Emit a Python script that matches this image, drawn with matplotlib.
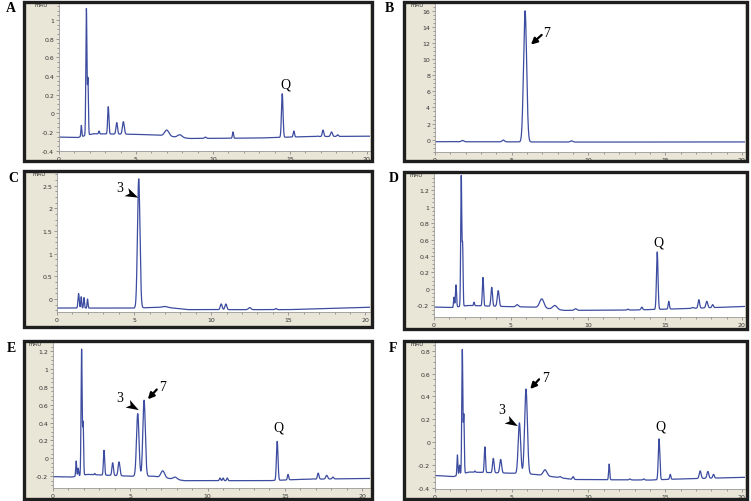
import numpy as np
import matplotlib.pyplot as plt
from matplotlib.patches import Rectangle
from matplotlib.path import Path
from matplotlib.ticker import MultipleLocator, AutoMinorLocator, FuncFormatter

# peak tables: retention time (min), apex (mAU), sigma (min)
# plus baseline knots (time, mAU)
A_rt = [1.45, 1.78, 1.88, 2.6, 3.2, 3.75, 4.18, 7.0, 7.85, 9.5, 11.3, 14.5, 15.25, 16.8, 17.15, 17.7, 18.1]
A_top = [-0.13, 1.12, 0.36, -0.19, 0.07, -0.10, -0.09, -0.18, -0.23, -0.255, -0.20, 0.21, -0.19, -0.245, -0.18, -0.20, -0.23]
A_sig = [0.03, 0.035, 0.03, 0.03, 0.04, 0.05, 0.06, 0.14, 0.14, 0.06, 0.035, 0.05, 0.04, 0.06, 0.05, 0.06, 0.05]
A_bt = [0, 1.2, 2.2, 5, 6.5, 8.5, 13, 16, 20.5]
A_by = [-0.255, -0.26, -0.22, -0.225, -0.235, -0.27, -0.265, -0.25, -0.245]

B_rt = [1.8, 4.45, 5.87, 8.9]
B_top = [-0.10, -0.05, 16.0, -0.15]
B_sig = [0.08, 0.08, 0.1, 0.08]
B_bt = [0, 10, 20.5]
B_by = [-0.25, -0.3, -0.28]

C_rt = [1.4, 1.57, 1.75, 1.98, 5.3, 7.0, 10.65, 10.95, 12.5, 14.2]
C_top = [0.12, 0.05, 0.03, 0.0, 2.65, -0.165, -0.11, -0.11, -0.19, -0.21]
C_sig = [0.04, 0.03, 0.03, 0.03, 0.08, 0.15, 0.06, 0.06, 0.08, 0.05]
C_bt = [0, 5, 7, 8.5, 15, 20.5]
C_by = [-0.20, -0.20, -0.18, -0.235, -0.235, -0.18]

D_rt = [1.3, 1.43, 1.77, 1.86, 2.6, 3.18, 3.75, 4.17, 5.4, 7.0, 7.85, 9.2, 12.6, 13.5, 14.5, 15.25, 16.8, 17.2, 17.72, 18.1]
D_top = [-0.10, 0.05, 1.37, 0.50, -0.16, 0.14, 0.02, -0.02, -0.19, -0.12, -0.20, -0.24, -0.245, -0.22, 0.45, -0.15, -0.225, -0.13, -0.15, -0.19]
D_sig = [0.03, 0.035, 0.035, 0.03, 0.03, 0.04, 0.05, 0.06, 0.08, 0.14, 0.14, 0.08, 0.05, 0.05, 0.05, 0.04, 0.06, 0.05, 0.06, 0.05]
D_bt = [0, 1.2, 2.2, 5, 6.5, 8.5, 13, 16, 20.5]
D_by = [-0.22, -0.225, -0.20, -0.215, -0.22, -0.26, -0.255, -0.24, -0.21]

E_rt = [1.5, 1.63, 1.85, 1.95, 2.7, 3.3, 3.86, 4.27, 5.48, 5.89, 7.1, 7.9, 10.8, 11.0, 11.27, 14.5, 15.2, 16.8, 17.15, 17.7, 18.1]
E_top = [-0.03, -0.11, 1.22, 0.39, -0.17, 0.09, -0.05, -0.04, 0.50, 0.65, -0.14, -0.21, -0.22, -0.22, -0.22, 0.19, -0.18, -0.23, -0.165, -0.19, -0.21]
E_sig = [0.03, 0.03, 0.035, 0.03, 0.03, 0.04, 0.05, 0.06, 0.08, 0.08, 0.12, 0.12, 0.04, 0.04, 0.04, 0.05, 0.04, 0.06, 0.05, 0.06, 0.05]
E_bt = [0, 1.2, 2.2, 5, 6.5, 8.5, 14, 16, 20.5]
E_by = [-0.205, -0.21, -0.18, -0.20, -0.20, -0.25, -0.25, -0.235, -0.225]

F_rt = [1.46, 1.6, 1.78, 1.88, 2.6, 3.25, 3.8, 4.28, 4.9, 5.5, 5.93, 7.17, 8.15, 9.0, 11.35, 12.7, 13.6, 14.6, 15.33, 15.9, 17.28, 17.78, 18.15]
F_top = [-0.11, -0.20, 0.81, 0.23, -0.25, -0.04, -0.14, -0.15, -0.27, 0.17, 0.465, -0.24, -0.30, -0.30, -0.19, -0.32, -0.32, 0.03, -0.28, -0.32, -0.25, -0.255, -0.28]
F_sig = [0.03, 0.03, 0.035, 0.03, 0.03, 0.04, 0.05, 0.06, 0.05, 0.08, 0.09, 0.12, 0.08, 0.05, 0.035, 0.05, 0.05, 0.05, 0.04, 0.05, 0.06, 0.06, 0.05]
F_bt = [0, 1.2, 2.2, 5, 6.5, 9, 14, 16, 20.5]
F_by = [-0.29, -0.30, -0.26, -0.27, -0.28, -0.325, -0.33, -0.32, -0.305]

W, H = 751, 502
fig = plt.figure(figsize=(W / 100, H / 100), dpi=100)
fig.patch.set_facecolor('white')
serif = 'Liberation Serif'
blue = '#3c4ca0'


def px(x0, y0, x1, y1):
    return [x0 / W, 1 - y1 / H, (x1 - x0) / W, (y1 - y0) / H]


def trace(t, rt, top, sig, bt, by):
    y = np.interp(t, bt, by)
    for r, h, s in zip(rt, top, sig):
        y = y + (h - np.interp(r, bt, by)) * np.exp(-0.5 * ((t - r) / s) ** 2)
    return y


def panel(letter, lpos, frame, box, xmax, ylim, ystep, data):
    # beige instrument background + thick border
    r = px(*frame)
    fig.add_artist(Rectangle(r[:2], r[2], r[3], transform=fig.transFigure,
                             facecolor='#e9e6d7', edgecolor='none', zorder=-1))
    fig.add_artist(Rectangle(r[:2], r[2], r[3], transform=fig.transFigure,
                             fill=False, edgecolor='#1e1e1e', lw=2.4, zorder=5))
    fig.text(lpos[0] / W, 1 - lpos[1] / H, letter, fontsize=10, fontweight='bold',
             family=serif, va='center')

    ax = fig.add_axes(px(*box), facecolor='white')
    t = np.linspace(0, xmax, 5000)
    ax.plot(t, trace(t, *data), color=blue, lw=0.9)
    ax.set_xlim(0, xmax)
    ax.set_ylim(*ylim)
    ax.xaxis.set_major_locator(MultipleLocator(5))
    ax.xaxis.set_minor_locator(AutoMinorLocator(5))
    ax.yaxis.set_major_locator(MultipleLocator(ystep))
    ax.yaxis.set_minor_locator(AutoMinorLocator(4))
    ax.yaxis.set_major_formatter(FuncFormatter(lambda v, p: '%g' % round(v, 2)))
    ax.tick_params(which='both', direction='out', colors='#777777', labelcolor='#333333',
                   labelsize=4.5, pad=1, width=0.5)
    ax.tick_params(which='major', length=2.5)
    ax.tick_params(which='minor', length=1.5)
    for s in ['top', 'right']:
        ax.spines[s].set_visible(False)
    for s in ['left', 'bottom']:
        ax.spines[s].set_color('#9a9a9a')
        ax.spines[s].set_linewidth(0.6)
    ax.text(-0.035, 0.995, 'mAU', transform=ax.transAxes, fontsize=4, color='#333333',
            ha='right', va='center')
    return ax


def label(ax, s, x, y):
    ax.text(x, y, s, family=serif, fontsize=10, ha='center', va='center')


def arrow7(ax, head, tail):
    ax.annotate('', xy=head, xytext=tail,
                arrowprops=dict(arrowstyle='-|>', color='black', lw=1.6, mutation_scale=9,
                                shrinkA=0, shrinkB=0))


def head3(ax, x, y, ang):
    # barbed arrowhead marker pointing at the peak
    v = np.array([[1, 0], [-0.75, 0.6], [-0.3, 0], [-0.75, -0.6], [1, 0]])
    a = np.deg2rad(ang)
    rot = np.array([[np.cos(a), -np.sin(a)], [np.sin(a), np.cos(a)]])
    ax.plot([x], [y], marker=Path(v @ rot.T), markersize=10, color='black', mew=0, ls='none')


axA = panel('A', (6, 8), (24, 3, 372, 162), (59, 5, 370, 152), 20.2, (-0.404, 1.17), 0.2,
            (A_rt, A_top, A_sig, A_bt, A_by))
label(axA, 'Q', 14.68, 0.31)

axB = panel('B', (385, 8), (404, 3, 747, 162), (435, 5, 745, 153), 20.2, (-1.53, 16.84), 2,
            (B_rt, B_top, B_sig, B_bt, B_by))
label(axB, '7', 7.28, 13.3)
arrow7(axB, (6.25, 11.8), (6.95, 13.0))

axC = panel('C', (8, 178), (24, 172, 372, 328), (57, 174, 370, 313), 20.3, (-0.287, 2.78), 0.5,
            (C_rt, C_top, C_sig, C_bt, C_by))
label(axC, '3', 4.06, 2.46)
head3(axC, 4.8, 2.31, -25)

axD = panel('D', (389, 178), (404, 173, 747, 330), (434, 175, 745, 318), 20.2, (-0.34, 1.395), 0.2,
            (D_rt, D_top, D_sig, D_bt, D_by))
label(axD, 'Q', 14.58, 0.575)

axE = panel('E', (7, 348), (24, 342, 372, 500), (53, 344, 370, 489), 20.5, (-0.332, 1.29), 0.2,
            (E_rt, E_top, E_sig, E_bt, E_by))
label(axE, '3', 4.34, 0.68)
head3(axE, 5.11, 0.59, -30)
label(axE, '7', 7.1, 0.80)
arrow7(axE, (6.13, 0.66), (6.71, 0.77))
label(axE, 'Q', 14.55, 0.35)

axF = panel('F', (389, 348), (404, 342, 747, 500), (435, 344, 745, 490), 20.2, (-0.408, 0.867), 0.2,
            (F_rt, F_top, F_sig, F_bt, F_by))
label(axF, '3', 4.35, 0.29)
head3(axF, 4.96, 0.177, -30)
label(axF, '7', 7.18, 0.57)
arrow7(axF, (6.2, 0.465), (6.78, 0.55))
label(axF, 'Q', 14.68, 0.145)

fig.savefig('out.png', dpi=100)
